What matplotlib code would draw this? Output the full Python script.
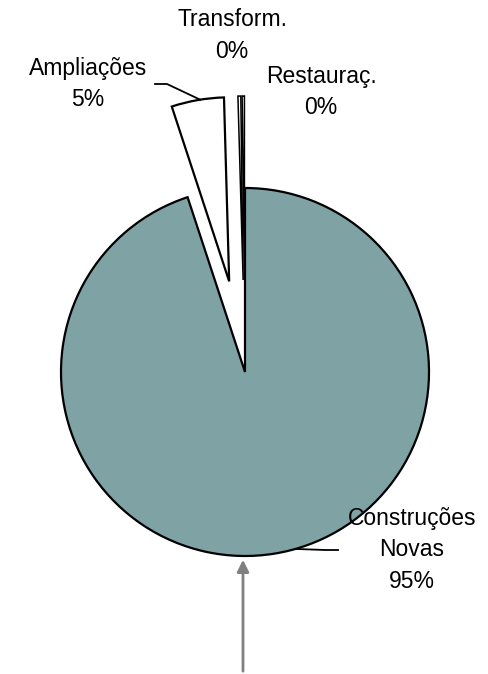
import numpy as np
import matplotlib.pyplot as plt

# Share of licensed works by type
categories = ['Construções\nNovas', 'Ampliações', 'Transform.', 'Restauraç.']
shares = [94.95, 4.6, 0.25, 0.2]
colors = ['#7FA2A5', 'white', 'white', 'white']

plt.rcParams['font.family'] = ['Liberation Sans', 'DejaVu Sans']

W, H = 489, 674
fig = plt.figure(figsize=(W / 100, H / 100), dpi=100)
ax = fig.add_axes([0, 0, 1, 1])

cx, cy, r = 245, 302, 184
explode = [0, 0.5 * r, 0.5 * r, 0.5 * r]

wedges, _ = ax.pie(shares, colors=colors, startangle=90, counterclock=False,
                   explode=explode, center=(cx, cy), radius=r,
                   wedgeprops=dict(edgecolor='black', linewidth=1.6))
# thin slices get a lighter outline so they don't fill in solid black
for w in wedges[2:]:
    w.set_linewidth(1.1)
ax.set_xlim(0, W)
ax.set_ylim(0, H)
ax.set_aspect('equal')
ax.axis('off')


def arc_point(w, frac):
    # point on the outer arc of a wedge, frac=0 at theta1, 1 at theta2
    ang = np.deg2rad(w.theta1 + frac * (w.theta2 - w.theta1))
    return w.center[0] + w.r * np.cos(ang), w.center[1] + w.r * np.sin(ang)


labels = [f'{c}\n{v:.0f}%' for c, v in zip(categories, shares)]
label_pos = [(412, 124), (88, 590), (232, 638), (321, 582)]
for txt, (x, y) in zip(labels, label_pos):
    ax.text(x, y, txt, ha='center', va='center', fontsize=16.5,
            linespacing=1.5, color='black')

# leader lines
px, py = arc_point(wedges[1], 0.45)
ax.plot([px, 167, 155], [py, 590, 590], color='black', lw=1.3)
px, py = arc_point(wedges[0], 0.52)
ax.plot([px, 325, 338], [py, 124, 124], color='black', lw=1.3)

# arrow pointing at the bottom of the pie
ax.annotate('', xy=(cx - 2, cy - r - 1), xytext=(cx - 2, 0),
            arrowprops=dict(arrowstyle='-|>,head_width=0.35,head_length=0.7',
                            color='#808080', lw=2))

fig.savefig('out.png', dpi=100)
